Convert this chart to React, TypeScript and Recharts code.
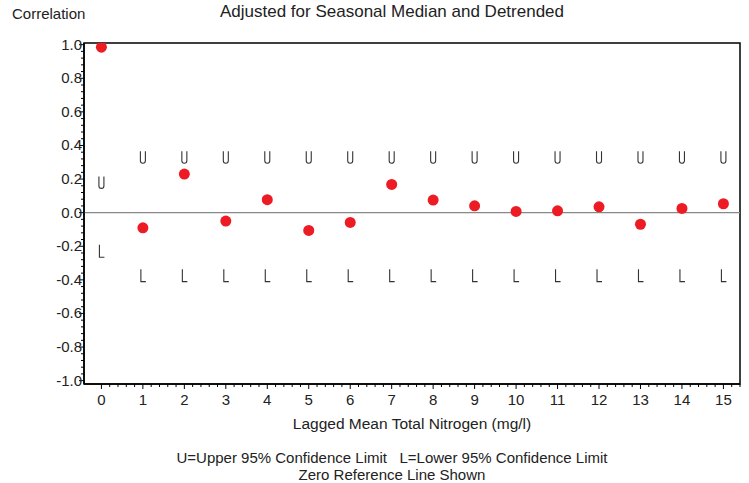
import { ScatterChart, Scatter, XAxis, YAxis, ReferenceLine, ReferenceArea } from 'recharts';

// lag in months (0..15)
const lags = [0, 1, 2, 3, 4, 5, 6, 7, 8, 9, 10, 11, 12, 13, 14, 15];
const correlation = [0.985, -0.09, 0.23, -0.05, 0.077, -0.106, -0.058, 0.168, 0.075, 0.041, 0.007, 0.011, 0.035, -0.069, 0.025, 0.053];
const upperLimit = [0.18, 0.33, 0.33, 0.33, 0.33, 0.33, 0.33, 0.33, 0.33, 0.33, 0.33, 0.33, 0.33, 0.33, 0.33, 0.33];
const lowerLimit = [-0.23, -0.375, -0.375, -0.375, -0.375, -0.375, -0.375, -0.375, -0.375, -0.375, -0.375, -0.375, -0.375, -0.375, -0.375, -0.375];

const xTicks = Array.from({ length: 78 }, (_, i) => +(i * 0.2).toFixed(1)).filter((v) => v <= 15.4);
const yTicks = Array.from({ length: 51 }, (_, i) => +(-1 + i * 0.04).toFixed(2));

const corrPoints = lags.map((lag, i) => ({ lag, value: correlation[i] }));
const upperPoints = lags.map((lag, i) => ({ lag, value: upperLimit[i] }));
const lowerPoints = lags.map((lag, i) => ({ lag, value: lowerLimit[i] }));

const FONT = '"Liberation Sans", Arial, sans-serif';
const TEXT = '#222';

const isMajor = (v: number, step: number) => Math.abs(v / step - Math.round(v / step)) < 1e-6;

const XTick = (props: any) => {
    const { x, y, payload } = props;
    const v = payload.value;
    const major = isMajor(v, 1);
    return (
        <g>
            <line x1={x} x2={x} y1={y} y2={y + (major ? 5 : 3)} stroke="#000" strokeWidth={1} />
            {major && (
                <text x={x} y={y + 21} textAnchor="middle" fontSize={15} fontFamily={FONT} fill={TEXT}>
                    {Math.round(v)}
                </text>
            )}
        </g>
    );
};

const YTick = (props: any) => {
    const { x, y, payload } = props;
    const v = payload.value;
    const major = isMajor(v, 0.2);
    return (
        <g>
            <line x1={x} x2={x - (major ? 5 : 3)} y1={y} y2={y} stroke="#000" strokeWidth={1} />
            {major && (
                <text x={x - 2} y={y + 5} textAnchor="end" fontSize={15} fontFamily={FONT} fill={TEXT}>
                    {v.toFixed(1)}
                </text>
            )}
        </g>
    );
};

const UShape = (props: any) => {
    const { cx, cy } = props;
    return (
        <path
            d={`M${cx - 2.5},${cy - 6} V${cy + 3.5} A2.5,2.5 0 0 0 ${cx + 2.5},${cy + 3.5} V${cy - 6}`}
            fill="none" stroke="#333" strokeWidth={1.1}
        />
    );
};

const LShape = (props: any) => {
    const { cx, cy } = props;
    return <path d={`M${cx - 2},${cy - 6.5} V${cy + 6} H${cx + 3}`} fill="none" stroke="#333" strokeWidth={1.1} />;
};

const Dot = (props: any) => <circle cx={props.cx} cy={props.cy} r={5.5} fill="#ED1C24" />;

export default function App() {
    return (
        <div style={{ position: 'absolute', left: 0, top: 0, width: 749, height: 483, background: '#fff', fontFamily: FONT }}>
            <div style={{ position: 'absolute', left: 0, width: 784, top: 2, textAlign: 'center', fontSize: 17, color: TEXT, lineHeight: '19px' }}>
                Adjusted for Seasonal Median and Detrended
            </div>
            <div style={{ position: 'absolute', left: 12, top: 5, fontSize: 15, color: TEXT }}>Correlation</div>

            <ScatterChart width={749} height={483} margin={{ top: 43, right: 9, bottom: 69, left: 24 }}>
                <XAxis
                    type="number" dataKey="lag" domain={[-0.42, 15.4]} ticks={xTicks} interval={0}
                    tick={<XTick />} tickLine={false} tickSize={0} tickMargin={0} height={30}
                    axisLine={{ stroke: '#000', strokeWidth: 1.5 }} allowDataOverflow
                />
                <YAxis
                    type="number" dataKey="value" domain={[-1.02, 1.01]} ticks={yTicks} interval={0}
                    tick={<YTick />} tickLine={false} tickSize={0} tickMargin={0} width={60}
                    axisLine={{ stroke: '#000', strokeWidth: 1.5 }} allowDataOverflow
                />
                <ReferenceArea x1={-0.42} x2={15.4} y1={-1.02} y2={1.01} fill="none" stroke="#000" strokeWidth={1.5} ifOverflow="visible" />
                <ReferenceLine y={0} stroke="#888" strokeWidth={1.2} />
                <Scatter data={upperPoints} shape={<UShape />} isAnimationActive={false} />
                <Scatter data={lowerPoints} shape={<LShape />} isAnimationActive={false} />
                <Scatter data={corrPoints} fill="#ED1C24" shape={<Dot />} isAnimationActive={false} />
            </ScatterChart>

            <div style={{ position: 'absolute', left: 84, width: 656, top: 415, textAlign: 'center', fontSize: 15.5, color: TEXT }}>
                Lagged Mean Total Nitrogen (mg/l)
            </div>
            <div style={{ position: 'absolute', left: 0, width: 784, top: 449, textAlign: 'center', fontSize: 15, color: TEXT, lineHeight: '17px', whiteSpace: 'pre' }}>
                {'U=Upper 95% Confidence Limit   L=Lower 95% Confidence Limit\nZero Reference Line Shown'}
            </div>
        </div>
    );
}
